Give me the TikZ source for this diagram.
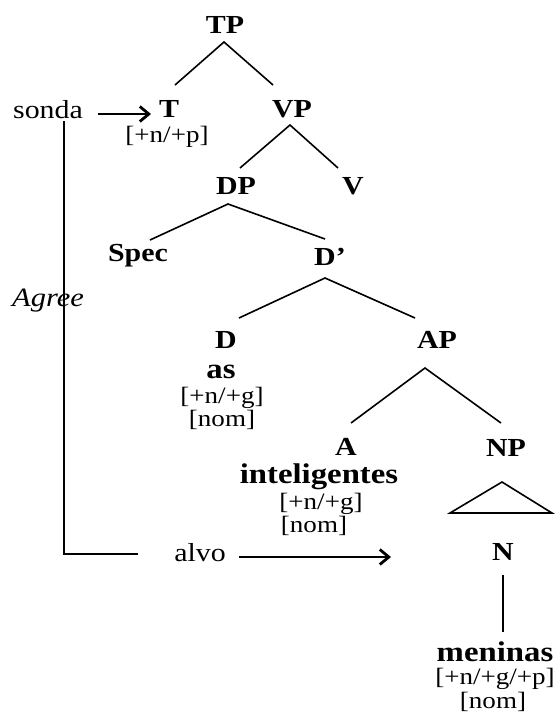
\documentclass[tikz,border=0pt]{standalone}
\usepackage{fontspec}
\setmainfont{Liberation Serif}[FakeStretch=1.15]
\usetikzlibrary{arrows.meta}
\begin{document}
\begin{tikzpicture}[x=1pt,y=-1pt,
  cat/.style={font=\fontsize{26}{26}\selectfont\bfseries, inner sep=0pt},
  word/.style={font=\fontsize{28.5}{28.5}\selectfont\bfseries, inner sep=0pt, anchor=base},
  feat/.style={font=\fontsize{23.5}{23.5}\selectfont, inner sep=0pt},
  plain/.style={font=\fontsize{26}{26}\selectfont, inner sep=0pt, anchor=base},
  branch/.style={line width=1.6pt},
  agreearrow/.style={line width=2.3pt, -{Straight Barb[length=9pt,width=15pt,line width=2.8pt]}},
  agreeline/.style={line width=2pt}]
\useasboundingbox (0,0) rectangle (555,713);
% category labels
\node[cat] (TP) at (225,25) {TP};
\node[cat] (T) at (169,109) {T};
\node[feat] (Tf) at (167,137) {[+n/+p]};
\node[cat] (VP) at (292,109) {VP};
\node[cat] (DP) at (236,186) {DP};
\node[cat] (V) at (353,186) {V};
\node[cat] (Spec) at (138,256) {Spec};
\node[cat] (Dbar) at (330,257) {D’};
\node[cat] (D) at (226,340) {D};
\node[word] (as) at (221,378) {as};
\node[feat] (asf1) at (222,398) {[+n/+g]};
\node[feat] (asf2) at (222,420) {[nom]};
\node[cat] (AP) at (437,340) {AP};
\node[cat] (A) at (346,447) {A};
\node[word] (intel) at (319,483) {inteligentes};
\node[feat] (intf1) at (321,504) {[+n/+g]};
\node[feat] (intf2) at (314,526) {[nom]};
\node[cat] (NP) at (506,448) {NP};
\node[cat] (N) at (503,552) {N};
\node[word] (men) at (495,661) {meninas};
\node[feat] (menf1) at (495,679) {[+n/+g/+p]};
\node[feat] (menf2) at (493,701.5) {[nom]};
% side labels
\node[plain] (sonda) at (48,118) {sonda};
\node[plain] (alvo) at (200,561) {alvo};
\node[plain, font=\fontsize{26.5}{26.5}\selectfont\itshape] (agree) at (48,306) {Agree};
% branch points
\coordinate (tpa) at (224,42);
\coordinate (tpl) at (175,85);
\coordinate (tpr) at (273,85);
\coordinate (vpa) at (290,125);
\coordinate (vpl) at (240,168);
\coordinate (vpr) at (338,168);
\coordinate (dpa) at (228,204);
\coordinate (dpl) at (150,240);
\coordinate (dpr) at (325,239);
\coordinate (dba) at (325,278);
\coordinate (dbl) at (239,318);
\coordinate (dbr) at (415,318);
\coordinate (apa) at (425,368);
\coordinate (apl) at (351,423);
\coordinate (apr) at (501,423);
\coordinate (tria) at (502,482);
\coordinate (tril) at (450,513);
\coordinate (trir) at (552,513);
\coordinate (nt) at (503,575);
\coordinate (nb) at (503,632);
\draw[branch] (tpl) -- (tpa) -- (tpr);
\draw[branch] (vpl) -- (vpa) -- (vpr);
\draw[branch] (dpl) -- (dpa) -- (dpr);
\draw[branch] (dbl) -- (dba) -- (dbr);
\draw[branch] (apl) -- (apa) -- (apr);
\draw[branch, line join=miter] (tria) -- (tril) -- (trir) -- cycle;
\draw[branch] (nt) -- (nb);
% agree connectors
\coordinate (sst) at (98,114);
\coordinate (ste) at (151,114);
\draw[agreearrow] (sst) -- (ste);
\coordinate (agtop) at (64,121);
\coordinate (agcorner) at (64,554);
\coordinate (agend) at (138,554);
\draw[agreeline] (agtop) -- (agcorner) -- (agend);
\coordinate (ast) at (239,557);
\coordinate (aen) at (391,557);
\draw[agreearrow] (ast) -- (aen);
\end{tikzpicture}
\end{document}
